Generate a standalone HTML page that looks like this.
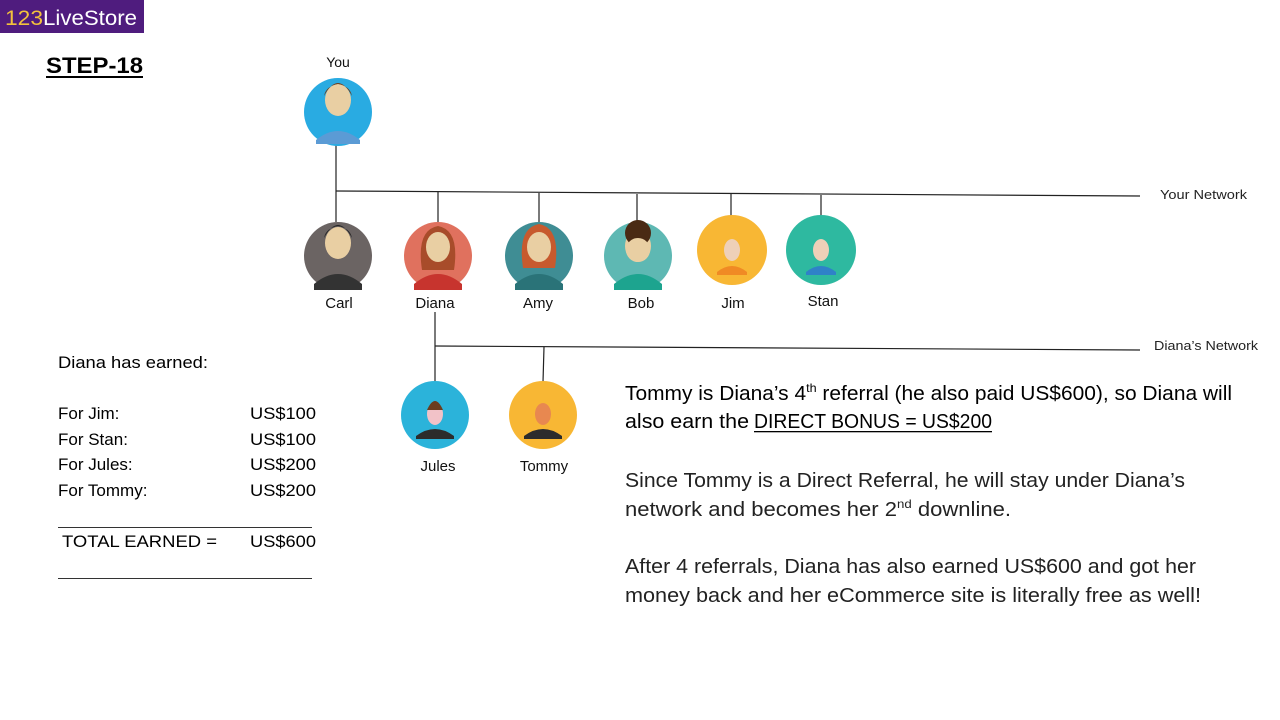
<!DOCTYPE html>
<html><head><meta charset="utf-8"><style>
html,body{margin:0;padding:0;background:#fff}
svg{display:block}
text{font-family:"Liberation Sans",sans-serif}
</style></head><body>
<svg width="1280" height="720" viewBox="0 0 1280 720" xmlns="http://www.w3.org/2000/svg">
<rect x="0" y="0" width="144" height="33" fill="#4f1c7e"/>
<text x="5" y="25" font-size="21" fill="#f3c23c" textLength="38" lengthAdjust="spacingAndGlyphs">123</text>
<text x="43" y="25" font-size="21" fill="#fff" textLength="94" lengthAdjust="spacingAndGlyphs">LiveStore</text>
<text x="46" y="73" font-size="22" font-weight="bold" fill="#000" textLength="97" lengthAdjust="spacingAndGlyphs">STEP-18</text>
<rect x="46" y="76" width="97" height="2" fill="#000"/>

<g stroke="#222" stroke-width="1.2" fill="none">
<line x1="336" y1="145" x2="336" y2="191"/>
<line x1="336" y1="191" x2="1140" y2="196"/>
<line x1="336" y1="191" x2="336" y2="222"/>
<line x1="438" y1="192" x2="438" y2="222"/>
<line x1="539" y1="193" x2="539" y2="222"/>
<line x1="637" y1="194" x2="637" y2="222"/>
<line x1="731" y1="194" x2="731" y2="216"/>
<line x1="821" y1="195" x2="821" y2="216"/>
<line x1="435" y1="312" x2="435" y2="382"/>
<line x1="435" y1="346" x2="1140" y2="350"/>
<line x1="544" y1="347" x2="543" y2="382"/>
</g>

<g>
<circle cx="338" cy="112" r="34" fill="#29abe2"/>
<path d="M316 140 q22-18 44 0 v4 h-44z" fill="#5b9bd5"/>
<ellipse cx="338" cy="100" rx="13" ry="16" fill="#e9cfa3"/>
<path d="M324 96 q14-26 28 0 q-2-10-14-12 q-12 2-14 12z" fill="#6b3d1e"/>

<circle cx="338" cy="256" r="34" fill="#6b6463"/>
<path d="M314 284 q24-20 48 0 v6 h-48z" fill="#333"/>
<ellipse cx="338" cy="243" rx="13" ry="16" fill="#e9cfa3"/>
<path d="M324 238 q14-26 28 0 q-2-10-14-12 q-12 2-14 12z" fill="#222"/>

<circle cx="438" cy="256" r="34" fill="#e0715e"/>
<path d="M414 284 q24-20 48 0 v6 h-48z" fill="#c7342e"/>
<path d="M422 270 q-6-40 16-44 q22 4 16 44z" fill="#a84c2a"/>
<ellipse cx="438" cy="247" rx="12" ry="15" fill="#e9cfa3"/>

<circle cx="539" cy="256" r="34" fill="#3f8d94"/>
<path d="M515 284 q24-20 48 0 v6 h-48z" fill="#2a7378"/>
<path d="M523 268 q-6-40 16-44 q22 4 16 44z" fill="#c75a2e"/>
<ellipse cx="539" cy="247" rx="12" ry="15" fill="#e9cfa3"/>

<circle cx="638" cy="256" r="34" fill="#5eb8b3"/>
<path d="M614 284 q24-20 48 0 v6 h-48z" fill="#1da48f"/>
<ellipse cx="638" cy="246" rx="13" ry="16" fill="#e9cfa3"/>
<circle cx="638" cy="233" r="13" fill="#4a2a14"/>
<ellipse cx="638" cy="250" rx="12" ry="12" fill="#e9cfa3"/>

<circle cx="732" cy="250" r="35" fill="#f8b734"/>
<path d="M717 272 q15-12 30 0 v3 h-30z" fill="#f08a24"/>
<ellipse cx="732" cy="250" rx="8" ry="11" fill="#eed0b8"/>

<circle cx="821" cy="250" r="35" fill="#2eb9a0"/>
<path d="M806 272 q15-12 30 0 v3 h-30z" fill="#2f82c8"/>
<ellipse cx="821" cy="250" rx="8" ry="11" fill="#eed0b8"/>

<circle cx="435" cy="415" r="34" fill="#2bb3da"/>
<path d="M416 436 q19-14 38 0 v3 h-38z" fill="#2c2c2c"/>
<ellipse cx="435" cy="414" rx="8" ry="11" fill="#f2c2c8"/>
<path d="M427 410 q8-18 16 0z" fill="#6b3d1e"/>

<circle cx="543" cy="415" r="34" fill="#f8b734"/>
<path d="M524 436 q19-14 38 0 v3 h-38z" fill="#2c2c2c"/>
<ellipse cx="543" cy="414" rx="8" ry="11" fill="#e88850"/>
</g>

<g font-size="15" fill="#111" text-anchor="middle">
<text x="338" y="67" font-size="14">You</text>
<text x="339" y="308">Carl</text>
<text x="435" y="308">Diana</text>
<text x="538" y="308">Amy</text>
<text x="641" y="308">Bob</text>
<text x="733" y="308">Jim</text>
<text x="823" y="306">Stan</text>
<text x="438" y="471">Jules</text>
<text x="544" y="471">Tommy</text>
</g>
<text x="1160" y="199" font-size="12.5" fill="#222" textLength="87" lengthAdjust="spacingAndGlyphs">Your Network</text>
<text x="1154" y="350" font-size="12.5" fill="#222" textLength="104" lengthAdjust="spacingAndGlyphs">Diana’s Network</text>

<g font-size="17" fill="#000">
<text x="58" y="368" textLength="150" lengthAdjust="spacingAndGlyphs">Diana has earned:</text>
<text x="58" y="419">For Jim:</text>
<text x="58" y="445">For Stan:</text>
<text x="58" y="470">For Jules:</text>
<text x="58" y="496">For Tommy:</text>
<text x="250" y="419" textLength="66" lengthAdjust="spacingAndGlyphs">US$100</text>
<text x="250" y="445" textLength="66" lengthAdjust="spacingAndGlyphs">US$100</text>
<text x="250" y="470" textLength="66" lengthAdjust="spacingAndGlyphs">US$200</text>
<text x="250" y="496" textLength="66" lengthAdjust="spacingAndGlyphs">US$200</text>
<text x="62" y="547" textLength="155" lengthAdjust="spacingAndGlyphs">TOTAL EARNED    =</text>
<text x="250" y="547" textLength="66" lengthAdjust="spacingAndGlyphs">US$600</text>
</g>
<rect x="58" y="527" width="254" height="1" fill="#333"/>
<rect x="58" y="578" width="254" height="1" fill="#333"/>

<g font-size="20" fill="#000">
<text x="625" y="400" textLength="607" lengthAdjust="spacingAndGlyphs">Tommy is Diana’s 4<tspan font-size="12" dy="-8">th</tspan><tspan dy="8"> referral (he also paid US$600), so Diana will</tspan></text>
<text x="625" y="428" textLength="124" lengthAdjust="spacingAndGlyphs">also earn the</text>
<text x="754" y="428" textLength="238" lengthAdjust="spacingAndGlyphs">DIRECT BONUS = US$200</text>
<rect x="754" y="431" width="238" height="1.3" fill="#000"/>
</g>
<g font-size="20" fill="#222">
<text x="625" y="487" textLength="560" lengthAdjust="spacingAndGlyphs">Since Tommy is a Direct Referral, he will stay under Diana’s</text>
<text x="625" y="516" textLength="386" lengthAdjust="spacingAndGlyphs">network and becomes her 2<tspan font-size="12" dy="-8">nd</tspan><tspan dy="8"> downline.</tspan></text>
<text x="625" y="573" textLength="571" lengthAdjust="spacingAndGlyphs">After 4 referrals, Diana has also earned US$600 and got her</text>
<text x="625" y="602" textLength="576" lengthAdjust="spacingAndGlyphs">money back and her eCommerce site is literally free as well!</text>
</g>
</svg>
</body></html>
